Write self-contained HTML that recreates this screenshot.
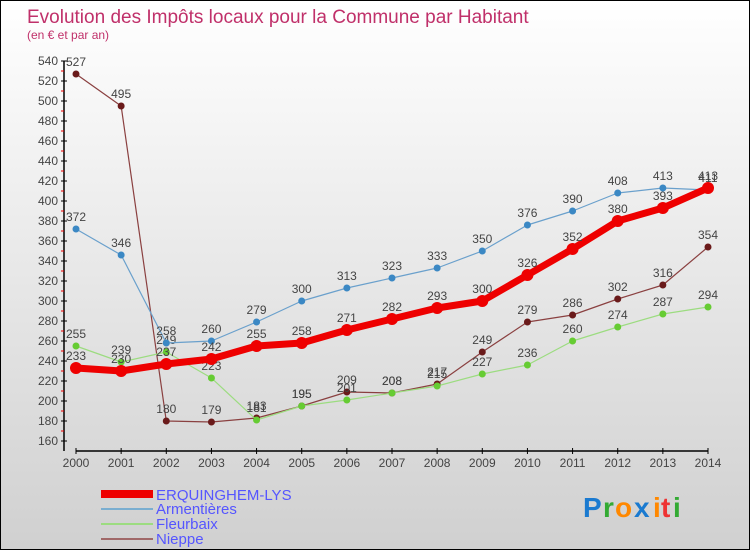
<!DOCTYPE html>
<html><head><meta charset="utf-8"><style>
body{margin:0}
#c{width:748px;height:548px;border:1px solid #000;background:linear-gradient(#fff,#d0d0d0);position:relative;font-family:"Liberation Sans",sans-serif;overflow:hidden}
svg text{font-family:"Liberation Sans",sans-serif}
</style></head><body>
<div id="c">
<svg id="s" width="748" height="548">
<text x="26" y="22" font-size="19" fill="#c0306a">Evolution des Impôts locaux pour la Commune par Habitant</text>
<text x="26" y="38" font-size="12" fill="#c0306a">(en € et par an)</text>
<g id="axes"></g><g id="series"></g>
<g>
<rect x="100" y="489" width="52" height="8" fill="#e00"/>
<text x="155" y="499" font-size="15" fill="#55f">ERQUINGHEM-LYS</text>
<rect x="100" y="507" width="52" height="2" fill="#7aaed0"/>
<text x="155" y="513" font-size="15" fill="#55f">Armentières</text>
<rect x="100" y="522" width="52" height="2" fill="#9cdc80"/>
<text x="155" y="528" font-size="15" fill="#55f">Fleurbaix</text>
<rect x="100" y="537" width="52" height="2" fill="#a06868"/>
<text x="155" y="543" font-size="15" fill="#55f">Nieppe</text>
</g>
<g font-size="28" font-weight="bold">
<text x="582" y="516" fill="#1a7ad0">P</text><text x="602" y="516" fill="#3a3">r</text><text x="614" y="516" fill="#f80">o</text><text x="633" y="516" fill="#1a7ad0">x</text><text x="652" y="516" fill="#f80">i</text><text x="660" y="516" fill="#e33">t</text><text x="672" y="516" fill="#3a3">i</text>
</g>
</svg></div>
<script>
const years=[2000,2001,2002,2003,2004,2005,2006,2007,2008,2009,2010,2011,2012,2013,2014];
const yTicks=[160,180,200,220,240,260,280,300,320,340,360,380,400,420,440,460,480,500,520,540];
const erquinghem=[233,230,237,242,255,258,271,282,293,300,326,352,380,393,413];
const armentieres=[372,346,258,260,279,300,313,323,333,350,376,390,408,413,411];
const fleurbaix=[255,239,249,223,181,195,201,208,215,227,236,260,274,287,294];
const nieppe=[527,495,180,179,183,195,209,208,217,249,279,286,302,316,354];
const NS="http://www.w3.org/2000/svg";
function xS(i){return 75+i*(707-75)/14;}
function yS(v){return 60+(540-v)*(440-60)/380;}
function mk(t,a,p){const e=document.createElementNS(NS,t);for(const k in a)e.setAttribute(k,a[k]);p.appendChild(e);return e;}
const ax=document.getElementById('axes');
const yl=mk('line',{x1:63,y1:60,x2:63,y2:450,stroke:'#000','stroke-width':1.5},ax);


const xl=mk('line',{x1:75,y1:450,x2:707,y2:450,stroke:'#000','stroke-width':1.5},ax);


yTicks.forEach(v=>{const y=yS(v);
mk('line',{x1:60,y1:y,x2:66,y2:y,stroke:'#000'},ax);
if(v<540)mk('line',{x1:60,y1:y-10,x2:63,y2:y-10,stroke:'#e00'},ax);
const t=mk('text',{x:57,y:y+4,'text-anchor':'end','font-size':12,fill:'#444'},ax);t.textContent=v;

});
years.forEach((yr,i)=>{const x=xS(i);
mk('line',{x1:x,y1:447,x2:x,y2:453,stroke:'#000'},ax);
const t=mk('text',{x:x,y:466,'text-anchor':'middle','font-size':12,fill:'#444'},ax);t.textContent=yr;

});
const sg=document.getElementById('series');
function series(name,data,col,w,r,dot){
const g=mk('g',{},sg);


const pts=data.map((v,i)=>xS(i)+','+yS(v)).join(' ');
mk('polyline',{points:pts,fill:'none',stroke:col,'stroke-width':w,'stroke-linejoin':'round'},g);
data.forEach((v,i)=>{const c=mk('circle',{cx:xS(i),cy:yS(v),r:r,fill:dot},g);


const t=mk('text',{x:xS(i),y:yS(v)-8,'text-anchor':'middle','font-size':12,fill:'#444'},g);t.textContent=v;});
}
series('nieppe',nieppe,'#8a4040',1.2,3.5,'#6a1a1a');
series('fleurbaix',fleurbaix,'#9cdc80',1.2,3.5,'#6c3');
series('armentieres',armentieres,'#6aa0cc',1.2,3.5,'#3b88c4');
series('erquinghem',erquinghem,'#e00',7,6,'#e00');
</script>
</body></html>
